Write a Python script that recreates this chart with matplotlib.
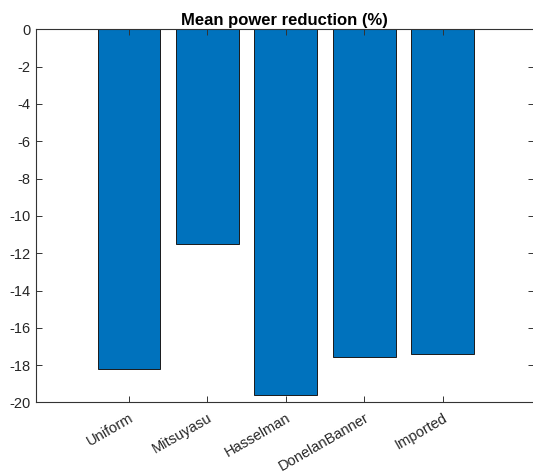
import numpy as np
import matplotlib
matplotlib.use("Agg")
import matplotlib.pyplot as plt

plt.rcParams['font.family'] = ['Liberation Sans', 'DejaVu Sans']
plt.rcParams['axes.unicode_minus'] = False

spectra = ['Uniform', 'Mitsuyasu', 'Hasselman', 'DonelanBanner', 'Imported']
reduction = [-18.22, -11.5, -19.58, -17.55, -17.4]

fig = plt.figure(figsize=(5.33, 4.74), dpi=100)
ax = fig.add_axes([0.067, 0.151, 0.934, 0.787])

x = np.arange(1, len(spectra) + 1)
ax.bar(x, reduction, width=0.8, color='#0072BD', edgecolor='#1a1a1a', linewidth=0.7, zorder=1)

ax.set_xlim(-0.19, 6.16)
ax.set_ylim(-20, 0)
ax.set_yticks(np.arange(-20, 1, 2))
ax.set_xticks(x)
ax.set_xticklabels(spectra, rotation=30, ha='right', rotation_mode='anchor')

axc = '#333333'
for s in ax.spines.values():
    s.set_color(axc)
    s.set_linewidth(0.8)
    s.set_zorder(3)
ax.tick_params(direction='in', length=4, width=0.7, colors=axc, labelcolor='#262626',
               labelsize=10.5, top=True, right=True, pad=4)
ax.tick_params(axis='x', pad=6)

ax.set_title('Mean power reduction (%)', fontsize=12, fontweight='bold', pad=3)

fig.savefig('out.png', dpi=100)
